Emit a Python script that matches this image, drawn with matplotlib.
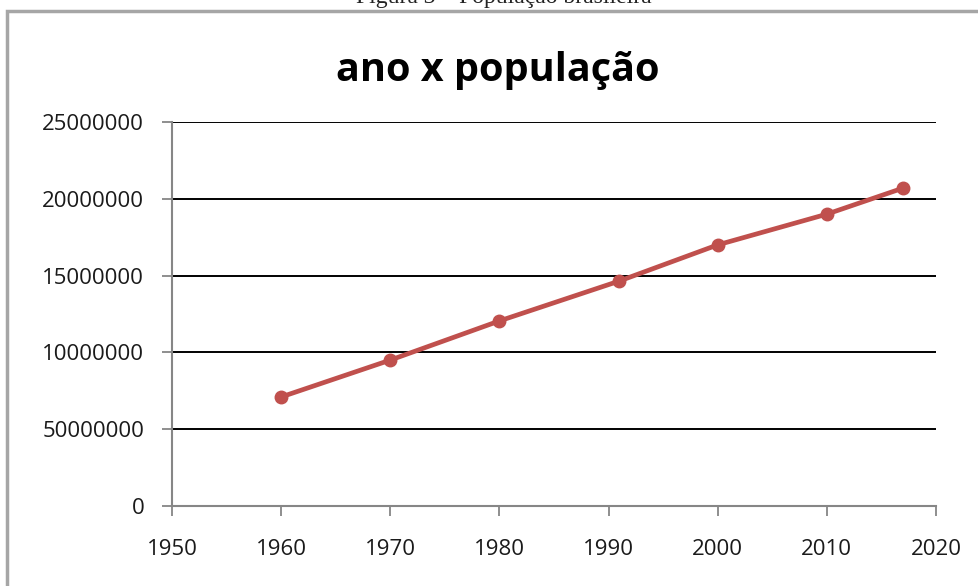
import matplotlib
matplotlib.use("Agg")
import matplotlib.pyplot as plt
from matplotlib.patches import Rectangle

# ano x população
anos = [1960, 1970, 1980, 1991, 2000, 2010, 2017]
populacao = [7100000, 9500000, 12050000, 14650000, 17000000, 19000000, 20700000]

x_ticks = [1950, 1960, 1970, 1980, 1990, 2000, 2010, 2020]
y_ticks = [0, 5000000, 10000000, 15000000, 20000000, 25000000]
y_labels = ["0", "50000000", "10000000", "15000000", "20000000", "25000000"]

plt.rcParams["font.family"] = ["Open Sans", "DejaVu Sans"]

fig = plt.figure(figsize=(9.79, 5.86), dpi=100)
ax = fig.add_axes([0.1757, 0.1365, 0.7803, 0.6553])

# moldura do gráfico
fig.patches.append(Rectangle((7 / 979, -0.05), 1.1, 1 - 11 / 586 + 0.05,
                             transform=fig.transFigure, fill=False,
                             edgecolor="#a6a6a6", linewidth=2.5, clip_on=False))

# legenda da figura, cortada no topo
fig.text(0.515, 1 - 3 / 586, "Figura 3 – População brasileira", ha="center",
         va="baseline", fontsize=17, family="Liberation Serif", color="#222222")

# título
fig.text(498 / 979, 1 - 81 / 586, "ano x população", ha="center",
         va="baseline", fontsize=28.5, fontweight="bold", color="black")

for y in y_ticks[1:]:
    ax.axhline(y, color="black", linewidth=1.4, zorder=1)

ax.plot(anos, populacao, color="#c0504d", linewidth=3.4, marker="o",
        markersize=9, zorder=3)

ax.set_xlim(1950, 2020)
ax.set_ylim(0, 25000000)
ax.set_xticks(x_ticks)
ax.set_yticks(y_ticks)
ax.set_yticklabels(y_labels)

for side in ["top", "right"]:
    ax.spines[side].set_visible(False)
for side in ["left", "bottom"]:
    ax.spines[side].set_color("#868686")
    ax.spines[side].set_linewidth(1.5)

ax.tick_params(axis="both", colors="#868686", labelcolor="#1a1a1a",
               labelsize=16, width=1.3, length=7, direction="out")
ax.tick_params(axis="x", pad=17)
ax.tick_params(axis="y", pad=13)

fig.savefig("out.png", dpi=100)
